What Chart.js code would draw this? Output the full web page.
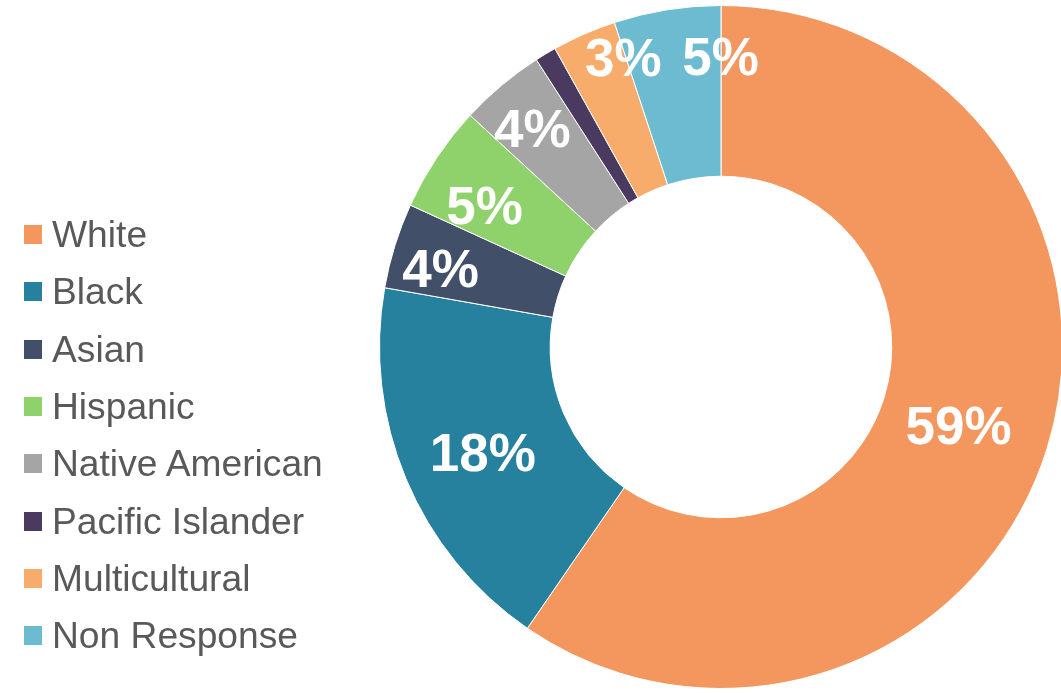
<!DOCTYPE html>
<html>
<head>
<meta charset="utf-8">
<script src="https://cdn.jsdelivr.net/npm/chart.js@4.4.0/dist/chart.umd.min.js"></script>
<style>
  html, body { margin: 0; padding: 0; background: #fff; overflow: hidden; }
  #wrap { position: relative; width: 1070px; height: 693px; }
  #legend {
    position: absolute; left: 24px; top: 206px;
    font-family: "Liberation Sans", Arial, sans-serif; font-size: 37.2px; color: #595959;
  }
  .leg-row { height: 57.3px; display: flex; align-items: center; }
  .leg-box { width: 18px; height: 19px; margin-right: 10px; }
</style>
</head>
<body>
<div id="wrap">
  <canvas id="chart" width="1070" height="693"></canvas>
  <div id="legend"></div>
</div>
<script>
// categorias e valores (%)
const categories = ['White', 'Black', 'Asian', 'Hispanic', 'Native American', 'Pacific Islander', 'Multicultural', 'Non Response'];
const values = [59, 18, 4, 5, 4, 1, 3, 5];
const valueLabels = ['59%', '18%', '4%', '5%', '4%', '', '3%', '5%'];
const colors = ['#F4975F', '#26819E', '#424F69', '#8FD16B', '#A5A5A5', '#4B3A5F', '#F8AC6C', '#6DBBD0'];

// legenda em HTML
const legend = document.getElementById('legend');
categories.forEach((name, i) => {
  const row = document.createElement('div');
  row.className = 'leg-row';
  row.innerHTML = `<div class="leg-box" style="background:${colors[i]}"></div><span>${name}</span>`;
  legend.appendChild(row);
});

// rótulos dentro das fatias (com ajuste fino tipo "best fit")
const sliceLabels = {
  id: 'sliceLabels',
  afterDatasetsDraw(chart, args, opts) {
    const ctx = chart.ctx;
    const meta = chart.getDatasetMeta(0);
    ctx.save();
    ctx.fillStyle = '#ffffff';
    ctx.font = 'bold 53px "Liberation Sans", Arial, sans-serif';
    ctx.textAlign = 'center';
    ctx.textBaseline = 'middle';
    meta.data.forEach((arc, i) => {
      const text = valueLabels[i];
      if (!text) return;
      const { x, y, startAngle, endAngle, innerRadius, outerRadius } = arc.getProps(['x', 'y', 'startAngle', 'endAngle', 'innerRadius', 'outerRadius'], true);
      const mid = (startAngle + endAngle) / 2;
      const frac = (endAngle - startAngle) / (Math.PI * 2);
      const t = frac < 0.1 ? 0.72 : 0.5;
      const r = innerRadius + (outerRadius - innerRadius) * t;
      const [dx, dy] = opts.nudge[i] || [0, 0];
      ctx.fillText(text, x + Math.cos(mid) * r + dx, y + Math.sin(mid) * r + 3 + dy);
    });
    ctx.restore();
  }
};

new Chart(document.getElementById('chart'), {
  type: 'doughnut',
  data: {
    labels: categories,
    datasets: [{
      data: values,
      backgroundColor: colors,
      borderColor: '#ffffff',
      borderWidth: 1
    }]
  },
  options: {
    responsive: false,
    animation: false,
    cutout: '50%',
    layout: { padding: { left: 379, right: 7, top: 5, bottom: 4 } },
    plugins: {
      legend: { display: false },
      tooltip: { enabled: false },
      sliceLabels: {
        nudge: [[-7, 3], [-2, 7], [0, 10], [8, 22], [0, 7], [0, 0], [20, -20], [46, 0]]
      }
    }
  },
  plugins: [sliceLabels]
});
</script>
</body>
</html>
